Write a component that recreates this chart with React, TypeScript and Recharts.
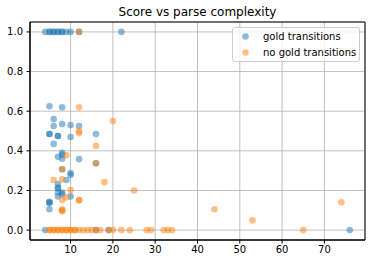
import { ScatterChart, Scatter, XAxis, YAxis, CartesianGrid, Legend, ReferenceArea } from 'recharts';

const FONT = '"DejaVu Sans", sans-serif';
const BLUE = '#1f77b4';
const ORANGE = '#ff7f0e';

// gold transitions: parse complexity / score
const goldComplexity = [
  4, 5, 5, 6, 6, 7, 7, 8, 8, 9, 10, 12, 22,
  5, 8, 6, 6, 8, 10, 12, 5, 5, 7, 7, 10, 16, 6,
  8, 8, 7, 8, 12, 16, 8, 10, 10, 9,
  7, 7, 7, 7, 8, 8, 7, 10, 5, 5, 5, 5,
  4, 16, 19, 76,
];
const goldScore = [
  1, 1, 1, 1, 1, 1, 1, 1, 1, 1, 1, 1, 1,
  0.625, 0.62, 0.56, 0.525, 0.535, 0.53, 0.525, 0.485, 0.485, 0.475, 0.475, 0.47, 0.485, 0.435,
  0.39, 0.38, 0.37, 0.36, 0.358, 0.337, 0.307, 0.288, 0.278, 0.253,
  0.232, 0.215, 0.21, 0.19, 0.19, 0.18, 0.17, 0.17, 0.143, 0.14, 0.135, 0.105,
  0, 0, 0, 0,
];

// no gold transitions: parse complexity / score
const noGoldComplexity = [
  12, 12, 20, 12, 12, 16, 9, 16, 8, 6, 8, 18, 10, 25, 9, 8, 12, 12, 8, 8, 8, 44, 53, 74,
  5, 5, 6, 6, 7, 7, 8, 8, 9, 9, 10, 10, 11, 11, 12, 13, 14, 15, 16, 17,
  19, 20, 22, 24, 28, 29, 32, 33, 34, 65,
];
const noGoldScore = [
  1, 0.62, 0.55, 0.5, 0.49, 0.425, 0.378, 0.337, 0.307, 0.253, 0.256, 0.242, 0.202, 0.2, 0.165,
  0.152, 0.152, 0.15, 0.105, 0.1, 0.095, 0.105, 0.049, 0.14,
  0, 0, 0, 0, 0, 0, 0, 0, 0, 0, 0, 0, 0, 0, 0, 0, 0, 0, 0, 0,
  0, 0, 0, 0, 0, 0, 0, 0, 0, 0,
];

const seriesNames = ['gold transitions', 'no gold transitions'];
const xTicks = [10, 20, 30, 40, 50, 60, 70];
const yTicks = [0, 0.2, 0.4, 0.6, 0.8, 1.0];
const X_DOMAIN: [number, number] = [0.4, 79.6];
const Y_DOMAIN: [number, number] = [-0.05, 1.05];

const zip = (xs: number[], ys: number[]) => xs.map((x, i) => ({ x, y: ys[i] }));
const goldData = zip(goldComplexity, goldScore);
const noGoldData = zip(noGoldComplexity, noGoldScore);

const dot = (color: string) => (props: any) => (
  <circle cx={props.cx} cy={props.cy} r={3.3} fill={color} fillOpacity={0.5} />
);

const tickStyle = { fill: '#000', fontSize: 10, fontFamily: FONT };

function LegendBox() {
  const colors = [BLUE, ORANGE];
  return (
    <div
      style={{
        border: '1px solid #cccccc',
        borderRadius: 3,
        background: 'rgba(255,255,255,0.8)',
        padding: '1px 0 1px 9px',
        fontFamily: FONT,
        fontSize: 10,
        lineHeight: '15.5px',
        color: '#000',
      }}
    >
      {seriesNames.map((name, i) => (
        <div key={name} style={{ display: 'flex', alignItems: 'center' }}>
          <svg width={7} height={7} style={{ flex: 'none' }}>
            <circle cx={3.5} cy={3.5} r={3.3} fill={colors[i]} fillOpacity={0.5} />
          </svg>
          <span style={{ marginLeft: 14 }}>{name}</span>
        </div>
      ))}
    </div>
  );
}

export default function App() {
  return (
    <div style={{ position: 'absolute', left: 0, top: 0, width: 372, height: 264, background: '#fff' }}>
      <div
        style={{
          position: 'absolute',
          left: 30,
          width: 335,
          top: 5,
          textAlign: 'center',
          fontFamily: FONT,
          fontSize: 12,
          color: '#000',
          lineHeight: '14px',
        }}
      >
        Score vs parse complexity
      </div>
      <ScatterChart width={372} height={264} margin={{ top: 22, right: 7, bottom: 0, left: 0 }}>
        <CartesianGrid stroke="#b0b0b0" strokeWidth={0.8} />
        <XAxis
          type="number"
          dataKey="x"
          domain={X_DOMAIN}
          ticks={xTicks}
          allowDataOverflow
          height={24}
          tickSize={3.5}
          tickMargin={2.5}
          tick={tickStyle}
          stroke="#000"
        />
        <YAxis
          type="number"
          dataKey="y"
          domain={Y_DOMAIN}
          ticks={yTicks}
          allowDataOverflow
          width={30}
          tickSize={3.5}
          tickMargin={3.5}
          tick={tickStyle}
          tickFormatter={(v: number) => v.toFixed(1)}
          stroke="#000"
        />
        <Scatter name={seriesNames[0]} data={goldData} fill={BLUE} shape={dot(BLUE)} isAnimationActive={false} />
        <Scatter name={seriesNames[1]} data={noGoldData} fill={ORANGE} shape={dot(ORANGE)} isAnimationActive={false} />
        <ReferenceArea
          x1={X_DOMAIN[0]}
          x2={X_DOMAIN[1]}
          y1={Y_DOMAIN[0]}
          y2={Y_DOMAIN[1]}
          fill="none"
          fillOpacity={0}
          stroke="#000"
          strokeWidth={1}
          ifOverflow="visible"
        />
        <Legend
          layout="vertical"
          align="center"
          verticalAlign="middle"
          content={() => <LegendBox />}
          wrapperStyle={{ left: 232, top: 27, width: 128 }}
        />
      </ScatterChart>
    </div>
  );
}
